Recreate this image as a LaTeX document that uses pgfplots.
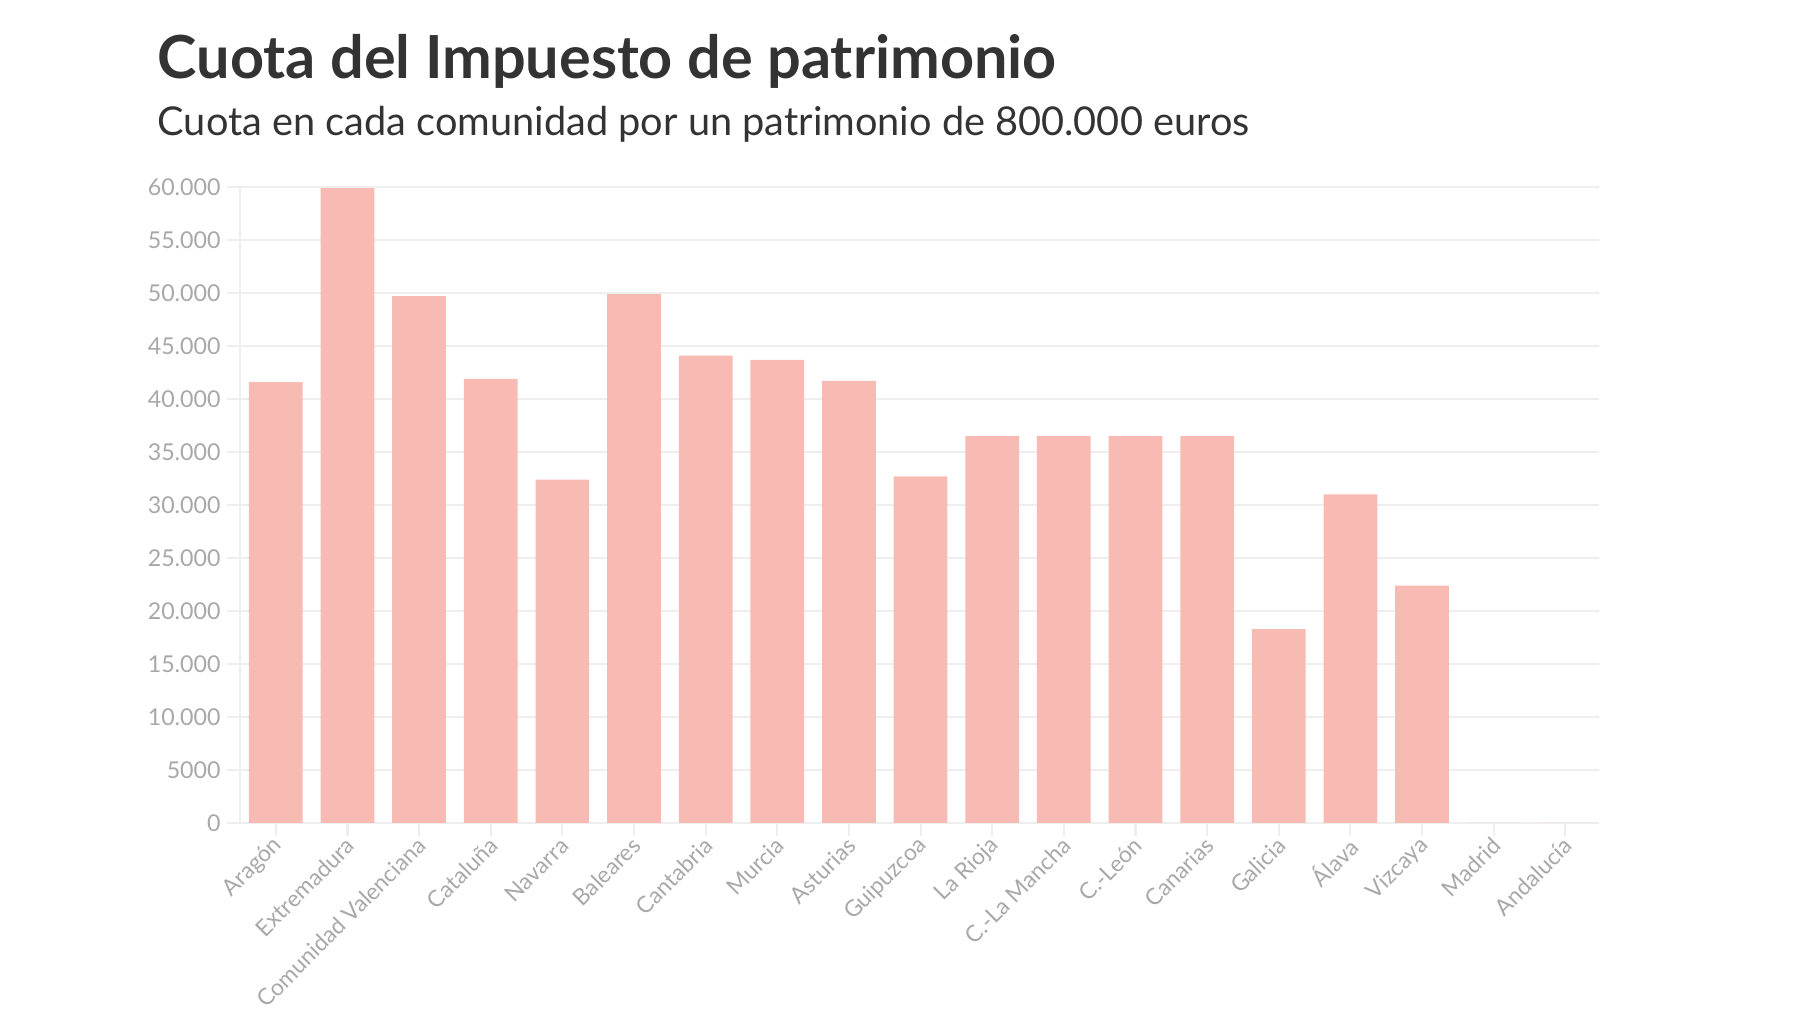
\documentclass[border=0pt]{standalone}
\usepackage{fontspec}
\setmainfont{Lato}
\usepackage{pgfplots}
\pgfplotsset{compat=1.18}
\definecolor{barc}{RGB}{248,187,180}
\definecolor{tickc}{RGB}{168,168,168}
\definecolor{gridc}{RGB}{238,238,238}
\definecolor{titlec}{RGB}{51,51,51}
\begin{document}
\begin{tikzpicture}
\path[use as bounding box] (0,0) rectangle (18,10.13);
\node[anchor=base west, font=\bfseries\fontsize{16.9}{19}\selectfont, text=titlec, inner sep=0] at (1.57,9.34) {Cuota del Impuesto de patrimonio};
\node[anchor=base west, font=\fontsize{11.3}{13}\selectfont, text=titlec, inner sep=0] at (1.57,8.77) {Cuota en cada comunidad por un patrimonio de 800.000 euros};
\begin{axis}[
  at={(2.40cm,1.90cm)}, anchor=south west,
  scale only axis, width=13.59cm, height=6.36cm,
  ybar, bar width=0.75,
  xmin=-0.5, xmax=18.47, ymin=0, ymax=60000,
  axis x line*=bottom, axis y line*=left,
  axis line style={draw=gridc, -},
  scaled y ticks=false,
  ytick={0,5000,...,60000},
  yticklabels={0,5000,10.000,15.000,20.000,25.000,30.000,35.000,40.000,45.000,50.000,55.000,60.000},
  ymajorgrids, grid style={draw=gridc, line width=0.6pt},
  xtick=data,
  xticklabels={Aragón,Extremadura,Comunidad Valenciana,Cataluña,Navarra,Baleares,Cantabria,Murcia,Asturias,Guipuzcoa,La Rioja,C.-La Mancha,C.-León,Canarias,Galicia,Álava,Vizcaya,Madrid,Andalucía},
  tick align=outside, major tick length=0.13cm,
  tick style={draw=gridc, line width=0.6pt},
  every tick label/.append style={text=tickc},
  yticklabel style={xshift=0.06cm, font=\fontsize{6.6}{8}\selectfont},
  xticklabel style={rotate=45, anchor=east, xshift=0.10cm, yshift=-0.06cm, font=\fontsize{6.5}{8}\selectfont},
  /pgf/number format/assume math mode=true,
  enlargelimits=false, clip=false,
]
\addplot[fill=barc, draw=none] coordinates {
(0,41600) (1,59900) (2,49700) (3,41900) (4,32400) (5,49900) (6,44100) (7,43700) (8,41700) (9,32700) (10,36500) (11,36500) (12,36500) (13,36500) (14,18300) (15,31000) (16,22400) (17,0) (18,0)};
\end{axis}
\end{tikzpicture}
\end{document}
